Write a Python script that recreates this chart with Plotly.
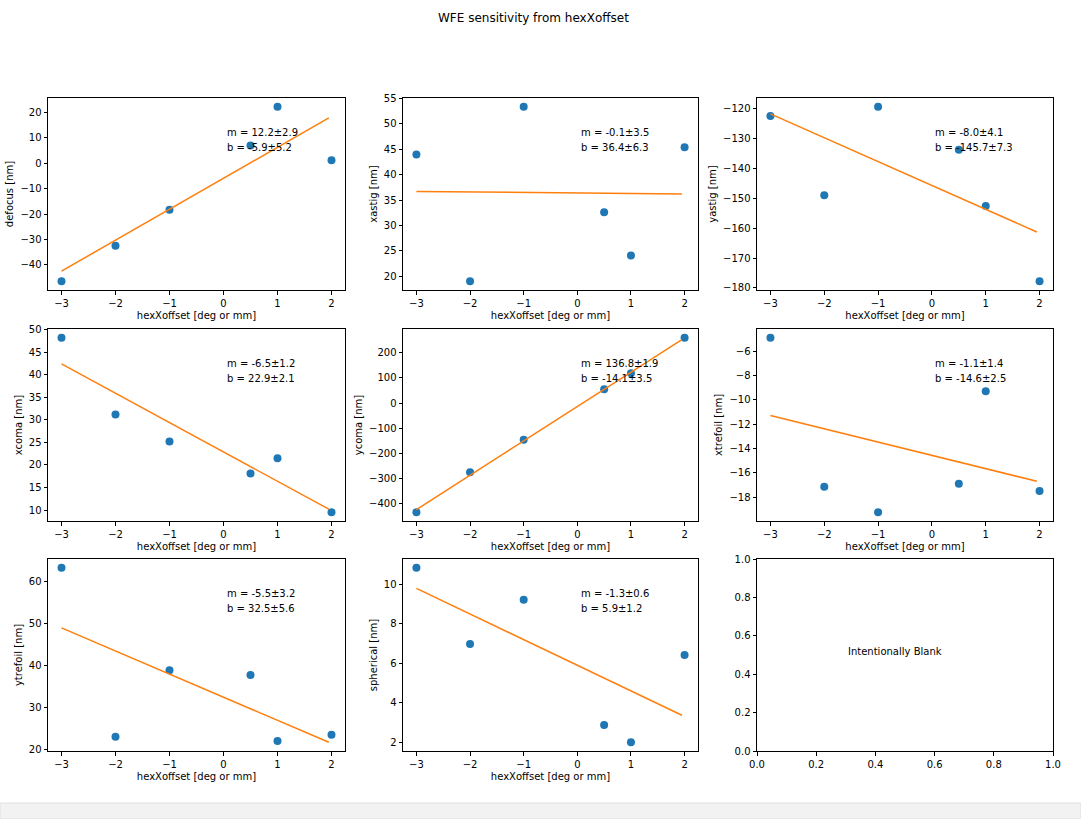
import plotly.graph_objects as go
from plotly.subplots import make_subplots

# ---------------- data ----------------
x_offsets = [-3, -2, -1, 0.5, 1, 2]
names = ["defocus", "xastig", "yastig", "xcoma", "ycoma", "xtrefoil", "ytrefoil", "spherical"]
defocus = [-46.5, -32.5, -18.3, 7.0, 22.3, 1.2]
xastig = [44.0, 19.0, 53.4, 32.6, 24.1, 45.4]
yastig = [-122.4, -149.0, -119.3, -133.7, -152.6, -177.8]
xcoma = [48.2, 31.2, 25.2, 18.1, 21.5, 9.5]
ycoma = [-435.0, -276.0, -146.0, 55.0, 119.0, 260.0]
xtrefoil = [-4.9, -17.15, -19.25, -16.9, -9.3, -17.5]
ytrefoil = [63.3, 23.1, 38.9, 37.8, 22.1, 23.6]
spherical = [10.85, 6.98, 9.22, 2.87, 1.99, 6.42]
series = [defocus, xastig, yastig, xcoma, ycoma, xtrefoil, ytrefoil, spherical]

# fit line end points (x = -3 and x = 1.95)
fit_x = [-3, 1.95]
fit_start = [-42.5, 36.7, -121.7, 42.4, -424.5, -11.3, 49.0, 9.8]
fit_end = [17.9, 36.2, -161.3, 10.2, 252.7, -16.7, 21.8, 3.36]

# fit text labels
m_text = ["12.2±2.9", "-0.1±3.5", "-8.0±4.1", "-6.5±1.2", "136.8±1.9", "-1.1±1.4", "-5.5±3.2", "-1.3±0.6"]
b_text = ["-5.9±5.2", "36.4±6.3", "-145.7±7.3", "22.9±2.1", "-14.1±3.5", "-14.6±2.5", "32.5±5.6", "5.9±1.2"]

# y tick steps per panel
y_dtick = [10, 5, 10, 5, 100, 2, 10, 2]

title = "WFE sensitivity from hexXoffset"
x_label = "hexXoffset [deg or mm]"
blank_text = "Intentionally Blank"

# ---------------- layout geometry ----------------
W, H = 1081, 819
col_px = [(48, 345), (403, 698), (757, 1053)]
row_px = [(98, 290), (329, 521), (559, 751)]

FONT = "DejaVu Sans, Liberation Sans, sans-serif"
BLUE = "#1f77b4"
ORANGE = "#ff7f0e"

fig = make_subplots(rows=3, cols=3)

for i, (name, ys) in enumerate(zip(names, series)):
    r, c = i // 3 + 1, i % 3 + 1
    fig.add_trace(go.Scatter(x=x_offsets, y=ys, mode="markers",
                             marker=dict(color=BLUE, size=8, line=dict(width=0)),
                             showlegend=False), row=r, col=c)
    fig.add_trace(go.Scatter(x=fit_x, y=[fit_start[i], fit_end[i]], mode="lines",
                             line=dict(color=ORANGE, width=1.5),
                             showlegend=False), row=r, col=c)

# empty trace for the blank panel so the axis exists
fig.add_trace(go.Scatter(x=[], y=[], showlegend=False), row=3, col=3)

axis_common = dict(showline=True, mirror=True, linecolor="black", linewidth=1,
                   ticks="outside", ticklen=3.5, tickcolor="black", tickwidth=1,
                   showgrid=False, zeroline=False, automargin=False,
                   tickfont=dict(family=FONT, size=10, color="black"))

for k in range(9):
    r, c = k // 3, k % 3
    xd = [col_px[c][0] / W, col_px[c][1] / W]
    yd = [1 - row_px[r][1] / H, 1 - row_px[r][0] / H]
    xa = "xaxis" if k == 0 else f"xaxis{k+1}"
    ya = "yaxis" if k == 0 else f"yaxis{k+1}"
    if k < 8:
        ys = series[k] + [fit_start[k], fit_end[k]]
        lo, hi = min(ys), max(ys)
        pad = 0.05 * (hi - lo)
        fig.update_layout({
            xa: dict(domain=xd, range=[-3.25, 2.25], dtick=1, tick0=0,
                     title=dict(text=x_label, font=dict(family=FONT, size=10, color="black"), standoff=4),
                     **axis_common),
            ya: dict(domain=yd, range=[lo - pad, hi + pad], dtick=y_dtick[k], tick0=0,
                     title=dict(text=f"{names[k]} [nm]", font=dict(family=FONT, size=10, color="black"), standoff=4),
                     **axis_common),
        })
        xref = "x" if k == 0 else f"x{k+1}"
        yref = "y" if k == 0 else f"y{k+1}"
        fig.add_annotation(x=0.595, y=0.818, xref=f"{xref} domain", yref=f"{yref} domain",
                           text=f"m = {m_text[k]}", showarrow=False, xanchor="left", yanchor="middle",
                           font=dict(family=FONT, size=10, color="black"))
        fig.add_annotation(x=0.595, y=0.74, xref=f"{xref} domain", yref=f"{yref} domain",
                           text=f"b = {b_text[k]}", showarrow=False, xanchor="left", yanchor="middle",
                           font=dict(family=FONT, size=10, color="black"))
    else:
        fig.update_layout({
            xa: dict(domain=xd, range=[0, 1], dtick=0.2, tick0=0, tickformat=".1f", **axis_common),
            ya: dict(domain=yd, range=[0, 1], dtick=0.2, tick0=0, tickformat=".1f", **axis_common),
        })
        fig.add_annotation(x=0.3, y=0.52, xref="x9", yref="y9", text=blank_text,
                           showarrow=False, xanchor="left", yanchor="middle",
                           font=dict(family=FONT, size=10, color="black"))

fig.add_annotation(x=533 / W, y=1 - 18 / H, xref="paper", yref="paper", text=title,
                   showarrow=False, xanchor="center", yanchor="middle",
                   font=dict(family=FONT, size=12, color="black"))

# light grey strip at the bottom of the picture
fig.add_shape(type="rect", xref="paper", yref="paper", x0=0, x1=1, y0=0, y1=16 / H,
              fillcolor="#f2f2f2", line=dict(color="#e0e0e0", width=1), layer="below")

fig.update_layout(width=W, height=H, margin=dict(l=0, r=0, t=0, b=0, autoexpand=False),
                  paper_bgcolor="white", plot_bgcolor="white",
                  font=dict(family=FONT, size=10, color="black"))

fig.write_html("out.html", config={"displayModeBar": False},
               post_script="document.body.style.margin='0px';document.body.style.overflow='hidden';")
